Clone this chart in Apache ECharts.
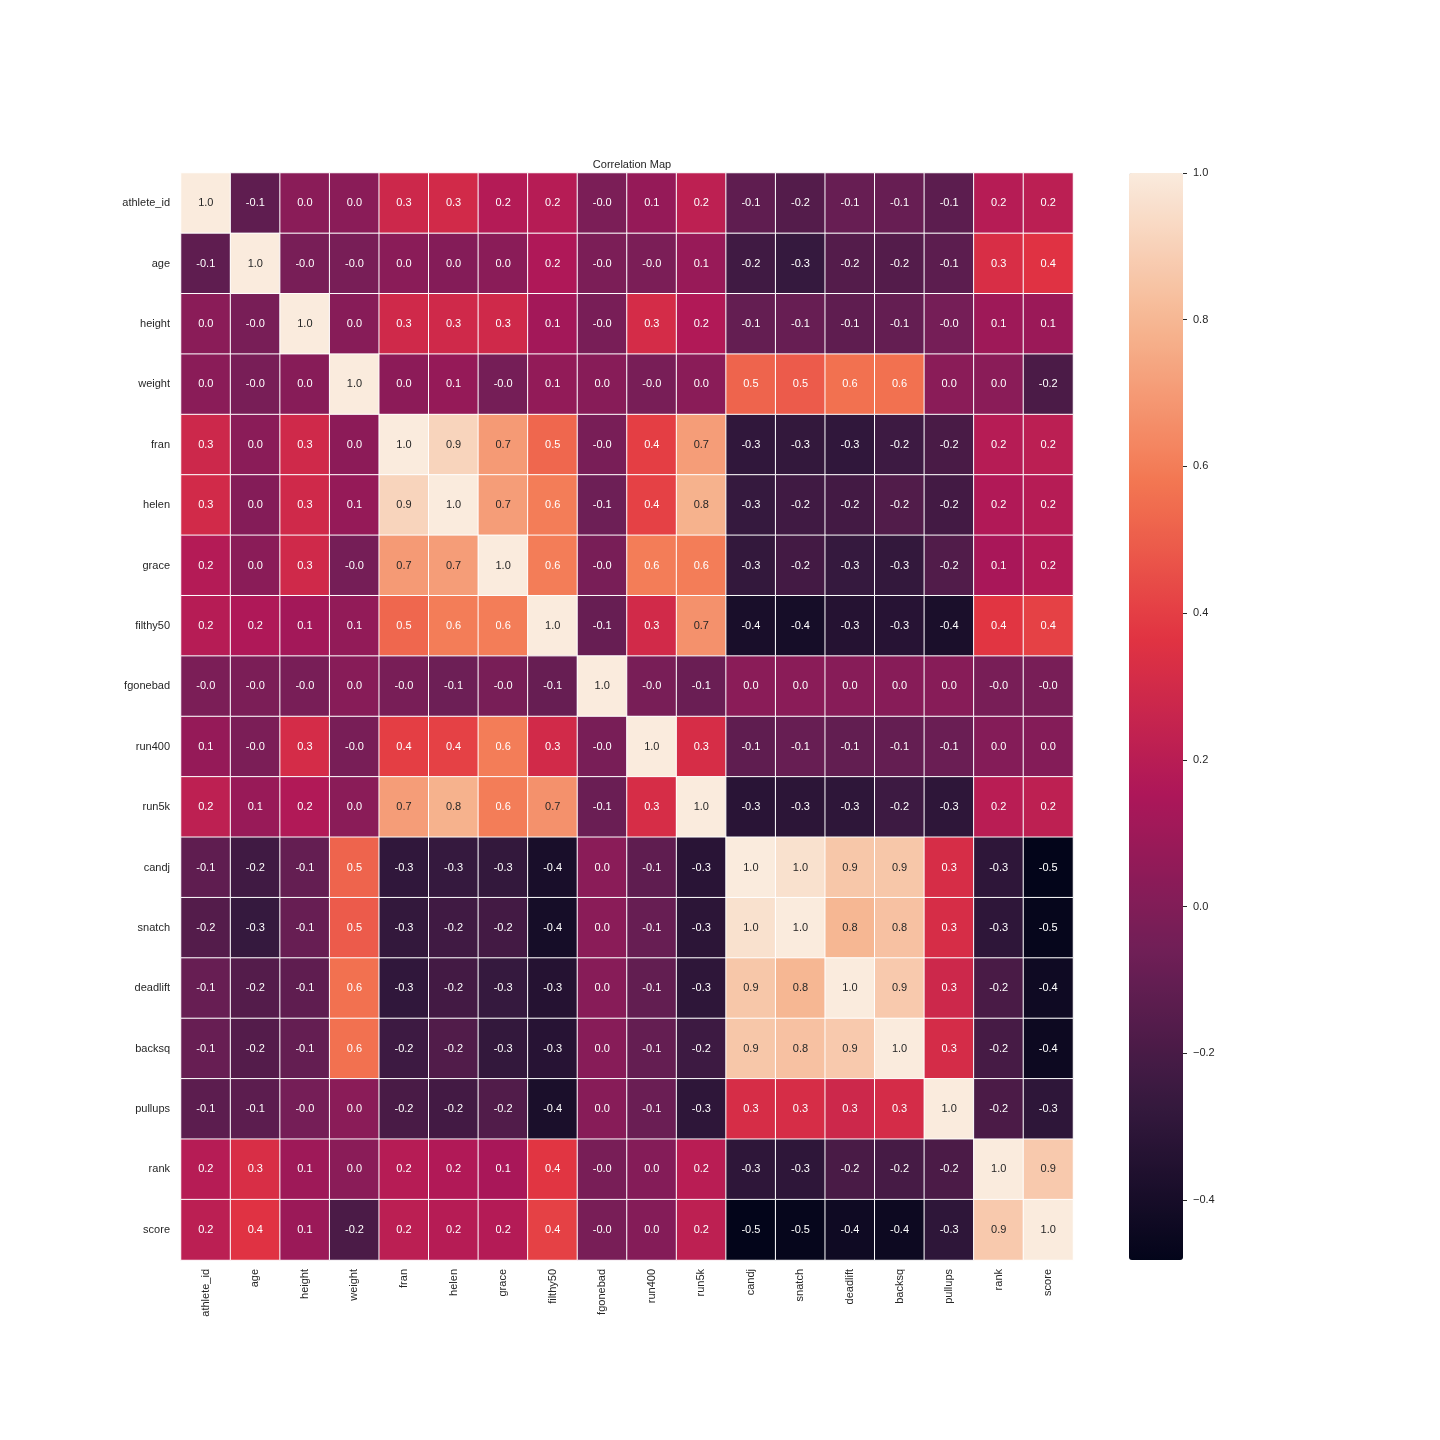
<!DOCTYPE html>
<html>
<head>
<meta charset="utf-8">
<title>Correlation Map</title>
<script src="https://cdn.jsdelivr.net/npm/echarts@6/dist/echarts.min.js"></script>
<style>
  html, body { margin: 0; padding: 0; background: #fff; }
  #chart { width: 1440px; height: 1440px; }
</style>
</head>
<body>
<div id="chart"></div>
<script>
// variables, same order on both axes
const labels = ["athlete_id", "age", "height", "weight", "fran", "helen", "grace", "filthy50",
  "fgonebad", "run400", "run5k", "candj", "snatch", "deadlift", "backsq", "pullups", "rank", "score"];

// correlation rows (2 decimals)
const r_athlete_id = [1.00, -0.12, 0.03, 0.03, 0.28, 0.30, 0.18, 0.19, -0.02, 0.07, 0.22, -0.12, -0.16, -0.09, -0.09, -0.13, 0.19, 0.21];
const r_age        = [-0.12, 1.00, -0.03, -0.03, 0.03, 0.01, 0.03, 0.16, -0.02, -0.02, 0.08, -0.23, -0.27, -0.16, -0.16, -0.13, 0.33, 0.36];
const r_height     = [0.03, -0.03, 1.00, 0.02, 0.29, 0.29, 0.29, 0.12, -0.03, 0.31, 0.17, -0.10, -0.09, -0.12, -0.10, -0.04, 0.10, 0.09];
const r_weight     = [0.03, -0.03, 0.02, 1.00, 0.04, 0.07, -0.04, 0.06, 0.02, -0.03, 0.03, 0.52, 0.49, 0.56, 0.56, 0.03, 0.03, -0.19];
const r_fran       = [0.28, 0.03, 0.29, 0.04, 1.00, 0.91, 0.70, 0.53, -0.03, 0.40, 0.71, -0.29, -0.28, -0.29, -0.24, -0.20, 0.19, 0.21];
const r_helen      = [0.30, 0.01, 0.29, 0.07, 0.91, 1.00, 0.71, 0.60, -0.07, 0.41, 0.78, -0.27, -0.23, -0.22, -0.17, -0.22, 0.17, 0.19];
const r_grace      = [0.18, 0.03, 0.29, -0.04, 0.70, 0.71, 1.00, 0.60, -0.03, 0.60, 0.60, -0.28, -0.22, -0.27, -0.28, -0.17, 0.14, 0.18];
const r_filthy50   = [0.19, 0.16, 0.12, 0.06, 0.53, 0.60, 0.60, 1.00, -0.09, 0.30, 0.67, -0.39, -0.40, -0.34, -0.33, -0.38, 0.37, 0.41];
const r_fgonebad   = [-0.02, -0.02, -0.03, 0.02, -0.03, -0.07, -0.03, -0.09, 1.00, -0.03, -0.08, 0.03, 0.03, 0.02, 0.02, 0.02, -0.03, -0.03];
const r_run400     = [0.07, -0.02, 0.31, -0.03, 0.40, 0.41, 0.60, 0.30, -0.03, 1.00, 0.32, -0.12, -0.09, -0.11, -0.10, -0.08, 0.01, 0.01];
const r_run5k      = [0.22, 0.08, 0.17, 0.03, 0.71, 0.78, 0.60, 0.67, -0.08, 0.32, 1.00, -0.32, -0.31, -0.30, -0.24, -0.30, 0.20, 0.22];
const r_candj      = [-0.12, -0.23, -0.10, 0.52, -0.29, -0.27, -0.28, -0.39, 0.03, -0.12, -0.32, 1.00, 0.96, 0.86, 0.86, 0.32, -0.30, -0.48];
const r_snatch     = [-0.16, -0.27, -0.09, 0.49, -0.28, -0.23, -0.22, -0.40, 0.03, -0.09, -0.31, 0.96, 1.00, 0.80, 0.84, 0.32, -0.30, -0.47];
const r_deadlift   = [-0.09, -0.16, -0.12, 0.56, -0.29, -0.22, -0.27, -0.34, 0.02, -0.11, -0.30, 0.86, 0.80, 1.00, 0.87, 0.28, -0.20, -0.43];
const r_backsq     = [-0.09, -0.16, -0.10, 0.56, -0.24, -0.17, -0.28, -0.33, 0.02, -0.10, -0.24, 0.86, 0.84, 0.87, 1.00, 0.31, -0.21, -0.44];
const r_pullups    = [-0.13, -0.13, -0.04, 0.03, -0.20, -0.22, -0.17, -0.38, 0.02, -0.08, -0.30, 0.32, 0.32, 0.28, 0.31, 1.00, -0.19, -0.30];
const r_rank       = [0.19, 0.33, 0.10, 0.03, 0.19, 0.17, 0.14, 0.37, -0.03, 0.01, 0.20, -0.30, -0.30, -0.20, -0.21, -0.19, 1.00, 0.87];
const r_score      = [0.21, 0.36, 0.09, -0.19, 0.21, 0.19, 0.18, 0.41, -0.03, 0.01, 0.22, -0.48, -0.47, -0.43, -0.44, -0.30, 0.87, 1.00];

const corr = [r_athlete_id, r_age, r_height, r_weight, r_fran, r_helen, r_grace, r_filthy50, r_fgonebad,
  r_run400, r_run5k, r_candj, r_snatch, r_deadlift, r_backsq, r_pullups, r_rank, r_score];

// colour scale limits
const vmin = -0.482;
const vmax = 1.0;
const rocket = ["#03051a", "#35193e", "#701f57", "#ad1759", "#e13342", "#f37651", "#f6b48f", "#faebdd"];

const FONT = "'Liberation Sans', Arial, 'DejaVu Sans', sans-serif";
const TXT = "#262626";

// heatmap cells: [col, row, value]
const cells = [];
corr.forEach((row, i) => {
  row.forEach((v, j) => {
    cells.push({
      value: [j, i, v],
      label: { color: v >= 0.65 ? TXT : "#ffffff" },
    });
  });
});

const chart = echarts.init(document.getElementById("chart"), null, { renderer: "canvas" });

const option = {
  backgroundColor: "#ffffff",
  animation: false,
  title: {
    text: "Correlation Map",
    left: 627,
    top: 154,
    textAlign: "center",
    textStyle: { fontFamily: FONT, fontSize: 11, fontWeight: "normal", color: TXT },
  },
  grid: [
    { left: 181, top: 173, width: 892, height: 1087 },
    // axis for the colorbar ticks (-0.4 .. 1.0)
    { left: 1129, top: 173, width: 54, height: 1027 },
  ],
  xAxis: [
    {
      type: "category",
      gridIndex: 0,
      data: labels,
      axisLine: { show: false },
      axisTick: { show: false },
      splitArea: { show: false },
      axisLabel: { rotate: 90, margin: 9, fontFamily: FONT, fontSize: 11, color: TXT },
    },
    { type: "category", gridIndex: 1, show: false, data: [""] },
  ],
  yAxis: [
    {
      type: "category",
      gridIndex: 0,
      data: labels,
      inverse: true,
      axisLine: { show: false },
      axisTick: { show: false },
      splitArea: { show: false },
      axisLabel: { margin: 11, fontFamily: FONT, fontSize: 11, color: TXT },
    },
    {
      type: "value",
      gridIndex: 1,
      position: "right",
      min: -0.4,
      max: 1.0,
      interval: 0.2,
      axisLine: { show: false },
      splitLine: { show: false },
      axisTick: { show: true, length: 4, lineStyle: { color: TXT, width: 1 } },
      axisLabel: {
        margin: 10,
        fontFamily: FONT,
        fontSize: 11,
        color: TXT,
        formatter: (v) => (v < -1e-9 ? "\u2212" : "") + Math.abs(v).toFixed(1),
      },
    },
  ],
  visualMap: {
    type: "continuous",
    seriesIndex: 0,
    min: vmin,
    max: vmax,
    calculable: false,
    hoverLink: false,
    realtime: false,
    orient: "vertical",
    left: 1129,
    top: 173,
    padding: 0,
    itemWidth: 54,
    itemHeight: 1087,
    showLabel: false,
    textStyle: { fontSize: 0, color: "rgba(0,0,0,0)" },
    handleStyle: { opacity: 0 },
    indicatorStyle: { opacity: 0 },
    inRange: { color: rocket },
  },
  series: [
    {
      type: "heatmap",
      xAxisIndex: 0,
      yAxisIndex: 0,
      data: cells,
      itemStyle: { borderColor: "#ffffff", borderWidth: 1 },
      label: {
        show: true,
        fontFamily: FONT,
        fontSize: 11,
        formatter: (p) => p.value[2].toFixed(1),
      },
      emphasis: { disabled: true },
    },
  ],
};

chart.setOption(option);
</script>
</body>
</html>
